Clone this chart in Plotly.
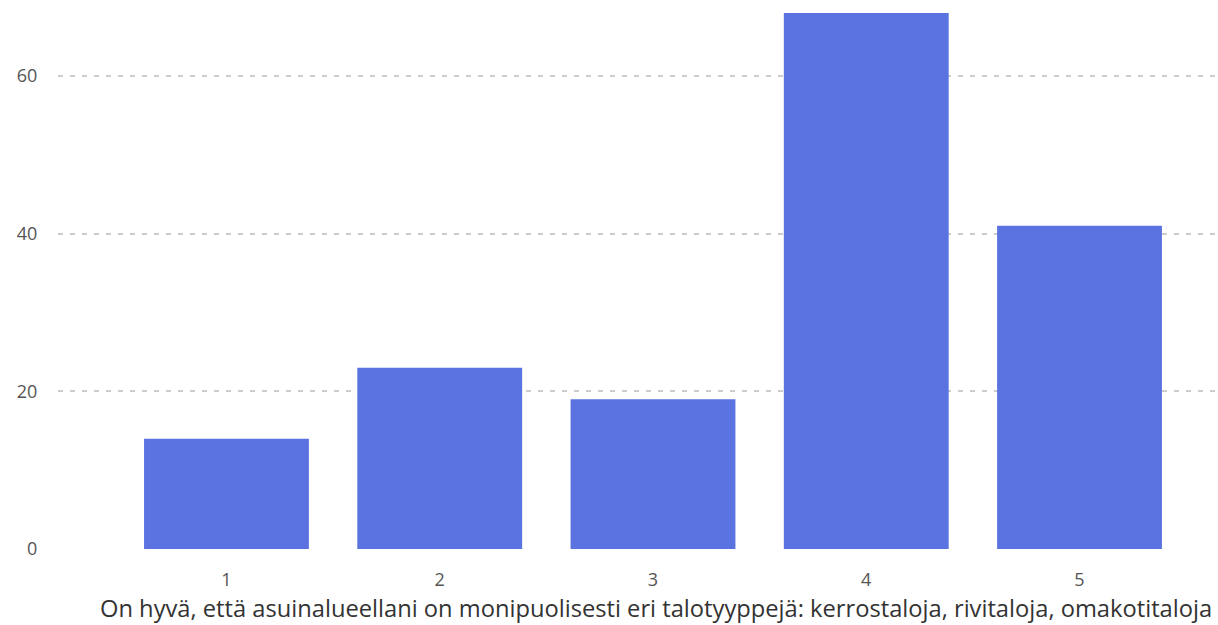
import plotly.graph_objects as go

categories = ["1", "2", "3", "4", "5"]
counts = [14, 23, 19, 68, 41]
y_ticks = [0, 20, 40, 60]
x_title = "On hyvä, että asuinalueellani on monipuolisesti eri talotyyppejä: kerrostaloja, rivitaloja, omakotitaloja"

FONT = dict(family="Open Sans, Lato, sans-serif", size=18, color="#555555")

fig = go.Figure(go.Bar(
    x=categories, y=counts, marker_color="#5B73E0", marker_line_width=0,
    hovertemplate="%{x}: %{y}<extra></extra>",
))
fig.update_layout(
    font=FONT, bargap=0.227, showlegend=False,
    width=1218, height=625, margin=dict(t=13, b=76, l=58, r=2),
    plot_bgcolor="white", paper_bgcolor="white",
)
# axis title sits slightly right of the plot centre in the original
fig.add_annotation(
    text=x_title, xref="paper", yref="paper", x=0.516, y=0,
    xanchor="center", yanchor="middle", yshift=-59, showarrow=False,
    font=dict(size=23.7, color="#333333"),
)
fig.update_xaxes(
    range=[-0.79, 4.64], showgrid=False, zeroline=False, showline=False,
    automargin=False,
    ticks="outside", ticklen=14, tickcolor="rgba(0,0,0,0)",
)
fig.update_yaxes(
    range=[0, 68], tickvals=y_ticks, gridcolor="#cccccc", gridwidth=2,
    griddash="5px,7px", zeroline=False, showline=False, automargin=False,
    ticks="outside", ticklen=16, tickcolor="rgba(0,0,0,0)",
)
# drop the default body margin so the figure fills the window exactly
fig.write_html("out.html", config={"displayModeBar": False},
               post_script="document.body.style.margin='0';document.body.style.overflow='hidden';")
